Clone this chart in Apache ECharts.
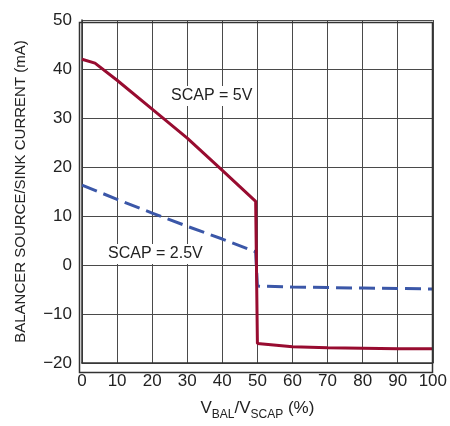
<!DOCTYPE html>
<html>
<head>
<meta charset="utf-8">
<script src="https://cdn.jsdelivr.net/npm/echarts@6/dist/echarts.min.js"></script>
<style>
  html, body { margin: 0; padding: 0; background: #fff; }
  #chart { width: 450px; height: 426px; }
</style>
</head>
<body>
<div id="chart"></div>
<script>
// values
var scap5V = [[0, 42], [3.7, 41.2], [10, 37.7], [20, 31.8], [30, 25.9], [40, 19.3], [49.5, 13], [50, -16], [60, -16.7], [70, -16.9], [80, -17], [90, -17.1], [100, -17.1]];
var scap2V5 = [[0, 16.3], [10, 13.4], [20, 10.6], [30, 7.9], [40, 5.3], [49.5, 2.7], [50, -4.3], [60, -4.5], [70, -4.6], [80, -4.7], [90, -4.8], [100, -4.9]];
var xTicks = { min: 0, max: 100, step: 10 };
var yTicks = { min: -20, max: 50, step: 10 };

var font = '"Liberation Sans", Arial, sans-serif';
var myChart = echarts.init(document.getElementById('chart'));

var option = {
    animation: false,
    backgroundColor: '#fff',
    grid: { left: 82, right: 15, top: 20, bottom: 56 },
    xAxis: {
        type: 'value',
        min: xTicks.min, max: xTicks.max, interval: xTicks.step,
        name: '{n|V}{s|BAL}{n|/V}{s|SCAP}{n| (%)}',
        nameLocation: 'middle',
        nameGap: 34,
        nameTextStyle: {
            rich: {
                n: { fontFamily: font, fontSize: 17, color: '#222', verticalAlign: 'bottom', lineHeight: 20 },
                s: { fontFamily: font, fontSize: 12, color: '#222', verticalAlign: 'bottom', lineHeight: 14, padding: [0, 0, -4, 0] }
            }
        },
        axisLine: { show: true, onZero: false, lineStyle: { color: '#333', width: 1.5 } },
        axisTick: { show: false },
        axisLabel: { fontFamily: font, fontSize: 17, color: '#222', margin: 10 },
        splitLine: { show: true, lineStyle: { color: '#4a4a4a', width: 1 } }
    },
    yAxis: {
        type: 'value',
        min: yTicks.min, max: yTicks.max, interval: yTicks.step,
        name: 'BALANCER SOURCE/SINK CURRENT (mA)',
        nameLocation: 'middle',
        nameGap: 54,
        nameTextStyle: { fontFamily: font, fontSize: 15, color: '#222' },
        axisLine: { show: true, onZero: false, lineStyle: { color: '#333', width: 1.5 } },
        axisTick: { show: false },
        axisLabel: {
            fontFamily: font, fontSize: 17, color: '#222', margin: 10,
            formatter: function (v) { return String(v).replace('-', '\u2212'); }
        },
        splitLine: { show: true, lineStyle: { color: '#4a4a4a', width: 1 } }
    },
    graphic: [
        { type: 'rect', right: 15, top: 20, shape: { width: 353, height: 350 }, style: { fill: 'none', stroke: '#333', lineWidth: 1.5 }, z: 10 },
        { type: 'text', left: 167, top: 86, style: { text: 'SCAP = 5V', fontFamily: font, fontSize: 16, fill: '#222', backgroundColor: '#fff', padding: [2, 4] }, z: 20 },
        { type: 'text', left: 104, top: 244, style: { text: 'SCAP = 2.5V', fontFamily: font, fontSize: 16, fill: '#222', backgroundColor: '#fff', padding: [2, 4] }, z: 20 }
    ],
    series: [
        {
            name: 'SCAP = 2.5V', type: 'line', data: scap2V5, symbol: 'none',
            lineStyle: { color: '#3b57a8', width: 3, type: [16, 7] }, z: 3
        },
        {
            name: 'SCAP = 5V', type: 'line', data: scap5V, symbol: 'none',
            lineStyle: { color: '#980c30', width: 3 }, z: 4
        }
    ]
};

myChart.setOption(option);
</script>
</body>
</html>
